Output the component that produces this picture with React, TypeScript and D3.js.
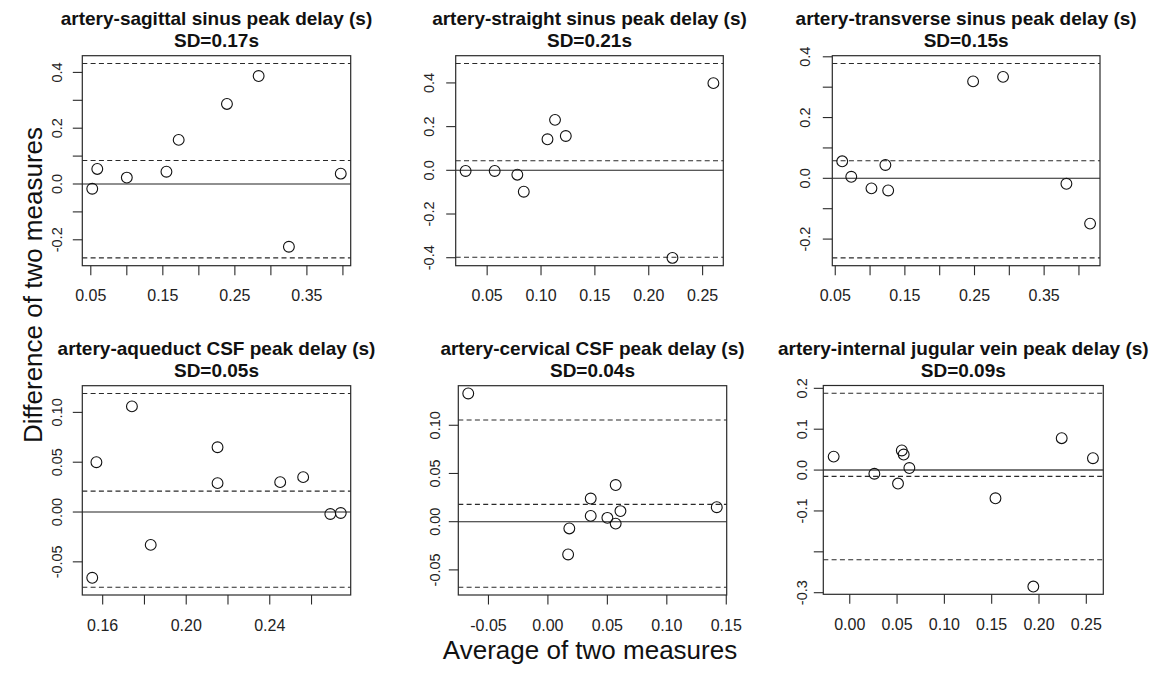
import React from "react";
import * as d3 from "d3";

// ---------- data ----------
const titles = [
  "artery-sagittal sinus peak delay (s)",
  "artery-straight sinus peak delay (s)",
  "artery-transverse sinus peak delay (s)",
  "artery-aqueduct CSF peak delay (s)",
  "artery-cervical CSF peak delay (s)",
  "artery-internal jugular vein peak delay (s)",
];
const sdLabels = ["SD=0.17s", "SD=0.21s", "SD=0.15s", "SD=0.05s", "SD=0.04s", "SD=0.09s"];

const p1X = [0.052, 0.059, 0.1, 0.155, 0.172, 0.239, 0.283, 0.325, 0.397];
const p1Y = [-0.017, 0.054, 0.023, 0.044, 0.158, 0.287, 0.387, -0.225, 0.037];
const p2X = [0.03, 0.057, 0.078, 0.084, 0.106, 0.113, 0.123, 0.222, 0.26];
const p2Y = [-0.003, -0.003, -0.02, -0.098, 0.142, 0.231, 0.157, -0.401, 0.399];
const p3X = [0.06, 0.073, 0.102, 0.122, 0.126, 0.248, 0.291, 0.382, 0.416];
const p3Y = [0.056, 0.005, -0.033, 0.044, -0.04, 0.319, 0.334, -0.018, -0.149];
const p4X = [0.155, 0.157, 0.174, 0.183, 0.215, 0.215, 0.245, 0.256, 0.269, 0.274];
const p4Y = [-0.066, 0.05, 0.106, -0.033, 0.065, 0.029, 0.03, 0.035, -0.002, -0.001];
const p5X = [-0.067, 0.018, 0.017, 0.036, 0.036, 0.05, 0.057, 0.057, 0.061, 0.142];
const p5Y = [0.133, -0.007, -0.034, 0.024, 0.006, 0.004, 0.038, -0.002, 0.011, 0.015];
const p6X = [-0.017, 0.026, 0.051, 0.055, 0.057, 0.063, 0.154, 0.194, 0.224, 0.257];
const p6Y = [0.033, -0.009, -0.033, 0.048, 0.038, 0.005, -0.069, -0.285, 0.078, 0.029];

// mean difference, upper and lower limits of agreement
const meanDiff = [0.084, 0.044, 0.058, 0.021, 0.018, -0.0155];
const upperLoA = [0.432, 0.489, 0.378, 0.119, 0.1055, 0.188];
const lowerLoA = [-0.265, -0.398, -0.262, -0.0755, -0.068, -0.2195];

const xTicks = [
  [0.05, 0.1, 0.15, 0.2, 0.25, 0.3, 0.35, 0.4],
  [0.05, 0.1, 0.15, 0.2, 0.25],
  [0.05, 0.1, 0.15, 0.2, 0.25, 0.3, 0.35, 0.4],
  [0.16, 0.18, 0.2, 0.22, 0.24, 0.26],
  [-0.05, 0, 0.05, 0.1, 0.15],
  [0, 0.05, 0.1, 0.15, 0.2, 0.25],
];
const xTickLabels = [
  ["0.05", "", "0.15", "", "0.25", "", "0.35", ""],
  ["0.05", "0.10", "0.15", "0.20", "0.25"],
  ["0.05", "", "0.15", "", "0.25", "", "0.35", ""],
  ["0.16", "", "0.20", "", "0.24", ""],
  ["-0.05", "0.00", "0.05", "0.10", "0.15"],
  ["0.00", "0.05", "0.10", "0.15", "0.20", "0.25"],
];
const yTicks = [
  [-0.2, -0.1, 0, 0.1, 0.2, 0.3, 0.4],
  [-0.4, -0.2, 0, 0.2, 0.4],
  [-0.2, -0.1, 0, 0.1, 0.2, 0.3, 0.4],
  [-0.05, 0, 0.05, 0.1],
  [-0.05, 0, 0.05, 0.1],
  [-0.3, -0.2, -0.1, 0, 0.1, 0.2],
];
const yTickLabels = [
  ["-0.2", "", "0.0", "", "0.2", "", "0.4"],
  ["-0.4", "-0.2", "0.0", "0.2", "0.4"],
  ["-0.2", "", "0.0", "", "0.2", "", "0.4"],
  ["-0.05", "0.00", "0.05", "0.10"],
  ["-0.05", "0.00", "0.05", "0.10"],
  ["-0.3", "", "-0.1", "0.0", "0.1", "0.2"],
];

const xAxisTitle = "Average of two measures";
const yAxisTitle = "Difference of two measures";

// ---------- layout ----------
const boxes = [
  { x0: 82.3, x1: 350.7, y0: 55.7, y1: 265.7, yLab: 20, zeroW: 1.1, zeroC: "#222" },
  { x0: 455.7, x1: 723.3, y0: 55.7, y1: 265.7, yLab: 22, zeroW: 1.1, zeroC: "#222" },
  { x0: 832.3, x1: 1100, y0: 55.7, y1: 265.7, yLab: 22, zeroW: 1.1, zeroC: "#222" },
  { x0: 82.3, x1: 350.7, y0: 385.7, y1: 595, yLab: 20.5, zeroW: 1.1, zeroC: "#222" },
  { x0: 458.3, x1: 726.7, y0: 385.7, y1: 595, yLab: 18, zeroW: 1.1, zeroC: "#222" },
  { x0: 823.3, x1: 1103.3, y0: 385.5, y1: 594.3, yLab: 16.5, zeroW: 2, zeroC: "#777" },
];

const xs = [p1X, p2X, p3X, p4X, p5X, p6X];
const ys = [p1Y, p2Y, p3Y, p4Y, p5Y, p6Y];

const FONT = "'Liberation Sans', Arial, Helvetica, sans-serif";
const LINE = "#2a2a2a";

function padDomain(vals: number[]): [number, number] {
  const [lo, hi] = d3.extent(vals) as [number, number];
  const p = (hi - lo) * 0.04;
  return [lo - p, hi + p];
}

function Panel({ i }: { i: number }) {
  const b = boxes[i];
  const xv = xs[i];
  const yv = ys[i];
  const x = d3.scaleLinear().domain(padDomain(xv)).range([b.x0, b.x1]);
  const y = d3
    .scaleLinear()
    .domain(padDomain([...yv, upperLoA[i], lowerLoA[i]]))
    .range([b.y1, b.y0]);
  const cx = (b.x0 + b.x1) / 2;
  const tickLen = 9.5;
  return (
    <g>
      <text x={cx} y={b.y0 - 30.7} textAnchor="middle" fontFamily={FONT} fontWeight="bold" fontSize={19} fill="#111">
        {titles[i]}
      </text>
      <text x={cx} y={b.y0 - 8.5} textAnchor="middle" fontFamily={FONT} fontWeight="bold" fontSize={19} fill="#111">
        {sdLabels[i]}
      </text>
      {/* reference lines */}
      <line x1={b.x0} x2={b.x1} y1={y(0)} y2={y(0)} stroke={b.zeroC} strokeWidth={b.zeroW} />
      {[upperLoA[i], meanDiff[i], lowerLoA[i]].map((v, k) => (
        <line key={k} x1={b.x0} x2={b.x1} y1={y(v)} y2={y(v)} stroke={LINE} strokeWidth={1.1} strokeDasharray="5,3.3" />
      ))}
      {/* points */}
      {xv.map((v, k) => (
        <circle key={k} cx={x(v)} cy={y(yv[k])} r={5.4} fill="none" stroke="#111" strokeWidth={1.1} />
      ))}
      {/* box */}
      <rect x={b.x0} y={b.y0} width={b.x1 - b.x0} height={b.y1 - b.y0} fill="none" stroke={LINE} strokeWidth={1.2} />
      {/* x axis */}
      {xTicks[i].map((t, k) => (
        <g key={k}>
          <line x1={x(t)} x2={x(t)} y1={b.y1} y2={b.y1 + tickLen} stroke={LINE} strokeWidth={1.1} />
          {xTickLabels[i][k] && (
            <text x={x(t)} y={b.y1 + 35.5} textAnchor="middle" fontFamily={FONT} fontSize={16} fill="#222">
              {xTickLabels[i][k]}
            </text>
          )}
        </g>
      ))}
      {/* y axis */}
      {yTicks[i].map((t, k) => (
        <g key={k}>
          <line x1={b.x0 - tickLen} x2={b.x0} y1={y(t)} y2={y(t)} stroke={LINE} strokeWidth={1.1} />
          {yTickLabels[i][k] && (
            <text
              transform={`translate(${b.x0 - b.yLab},${y(t)}) rotate(-90)`}
              textAnchor="middle"
              fontFamily={FONT}
              fontSize={14.5}
              fill="#222"
            >
              {yTickLabels[i][k]}
            </text>
          )}
        </g>
      ))}
    </g>
  );
}

export default function App() {
  return (
    <svg
      width={1152}
      height={673}
      style={{ position: "absolute", left: 0, top: 0, background: "#fff" }}
    >
      <rect x={0} y={0} width={1152} height={673} fill="#fff" />
      {titles.map((_, i) => (
        <Panel key={i} i={i} />
      ))}
      <text x={590} y={659} textAnchor="middle" fontFamily={FONT} fontSize={26} fill="#111">
        {xAxisTitle}
      </text>
      <text transform="translate(42,285) rotate(-90)" textAnchor="middle" fontFamily={FONT} fontSize={26} fill="#111">
        {yAxisTitle}
      </text>
    </svg>
  );
}
